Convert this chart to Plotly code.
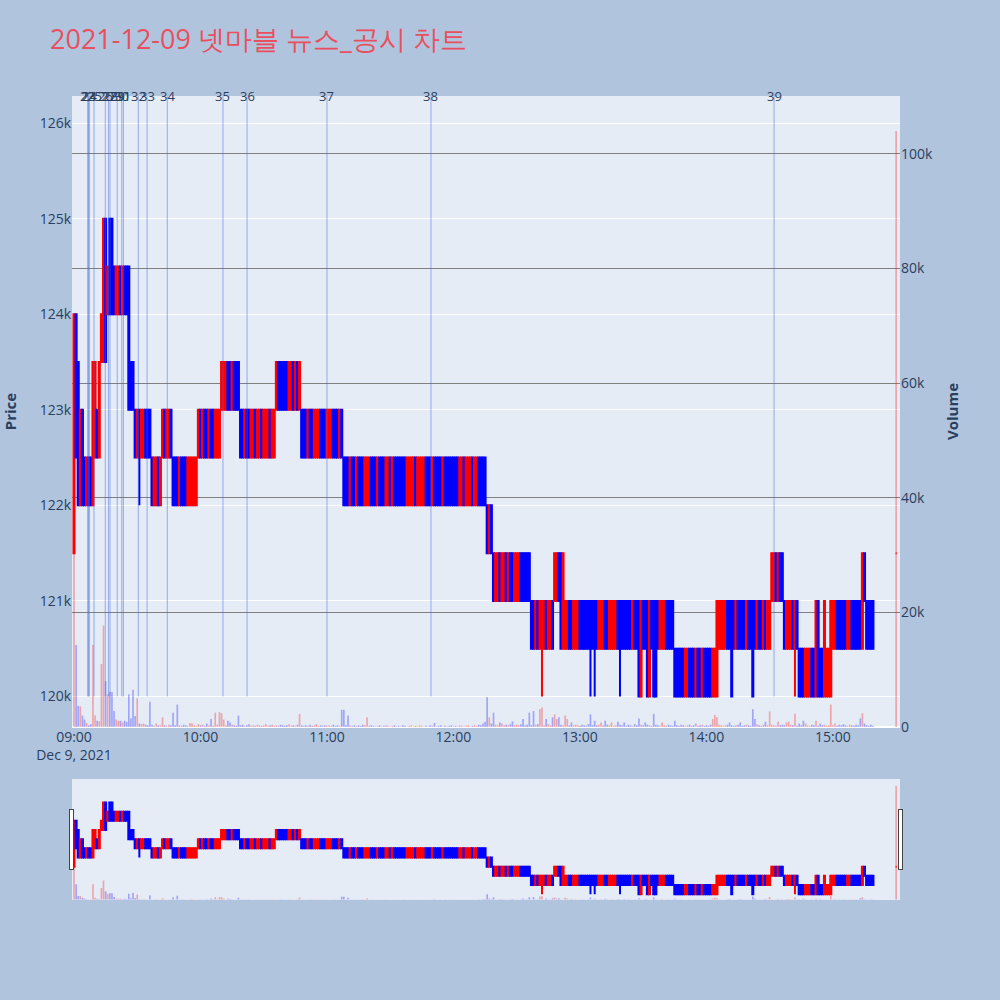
import pandas as pd
import plotly.graph_objects as go
from plotly.subplots import make_subplots

TITLE = "2021-12-09 넷마블 뉴스_공시 차트"
DAY = "2021-12-09"

# ---- per-minute candles 09:00 .. 15:19 (continuous session) + 15:30 closing auction
# prices in thousand KRW
open_k = [
    121.5, 124.0, 123.5, 122.0, 123.0, 122.5, 122.0, 122.5, 122.5, 122.0,  # 09:00
    122.5, 123.0, 122.5, 123.5, 123.5, 125.0, 124.0, 125.0, 125.0, 124.5,
    124.0, 124.0, 124.5, 124.0, 124.5, 124.5, 124.5, 123.5, 123.5, 123.0,
    122.5, 123.0, 122.5, 122.5, 123.0, 123.0, 123.0, 122.5, 122.0, 122.0,
    122.5, 122.0, 122.5, 123.0, 122.5, 122.5, 123.0, 122.5, 122.5, 122.5,
    122.0, 122.5, 122.5, 122.5, 122.0, 122.0, 122.0, 122.0, 122.0, 122.5,
    123.0, 122.5, 123.0, 123.0, 122.5, 123.0, 123.0, 122.5, 122.5, 122.5,  # 10:00
    123.0, 123.0, 123.0, 123.5, 123.5, 123.0, 123.5, 123.5, 123.5, 123.0,
    123.0, 122.5, 123.0, 123.0, 122.5, 122.5, 123.0, 122.5, 122.5, 123.0,
    122.5, 122.5, 122.5, 123.0, 122.5, 122.5, 123.0, 123.5, 123.5, 123.5,
    123.5, 123.5, 123.0, 123.0, 123.5, 123.0, 123.5, 123.0, 123.0, 123.0,
    123.0, 122.5, 123.0, 123.0, 122.5, 122.5, 122.5, 123.0, 123.0, 123.0,
    122.5, 122.5, 122.5, 123.0, 123.0, 123.0, 122.5, 123.0, 122.5, 122.5,  # 11:00
    122.5, 122.0, 122.5, 122.5, 122.0, 122.5, 122.5, 122.5, 122.0, 122.0,
    122.0, 122.5, 122.5, 122.5, 122.0, 122.5, 122.5, 122.5, 122.0, 122.0,
    122.5, 122.0, 122.5, 122.5, 122.5, 122.5, 122.5, 122.5, 122.0, 122.0,
    122.0, 122.0, 122.5, 122.0, 122.0, 122.0, 122.0, 122.5, 122.5, 122.5,
    122.0, 122.5, 122.5, 122.5, 122.5, 122.0, 122.5, 122.5, 122.5, 122.5,
    122.5, 122.5, 122.5, 122.0, 122.0, 122.5, 122.0, 122.0, 122.0, 122.5,  # 12:00
    122.0, 122.0, 122.5, 122.5, 122.5, 122.5, 122.0, 121.5, 122.0, 121.5,
    121.0, 121.0, 121.5, 121.0, 121.0, 121.5, 121.0, 121.5, 121.5, 121.0,
    121.0, 121.0, 121.5, 121.5, 121.5, 121.5, 121.5, 121.0, 121.0, 120.5,
    121.0, 120.5, 120.5, 120.5, 121.0, 120.5, 120.5, 121.0, 121.0, 121.0,
    121.5, 121.5, 120.5, 120.5, 120.5, 121.0, 121.0, 120.5, 120.5, 120.5,
    121.0, 121.0, 121.0, 121.0, 121.0, 121.0, 121.0, 121.0, 121.0, 120.5,  # 13:00
    120.5, 120.5, 121.0, 121.0, 120.5, 120.5, 120.5, 120.5, 121.0, 121.0,
    121.0, 121.0, 121.0, 121.0, 121.0, 120.5, 121.0, 121.0, 121.0, 120.0,
    121.0, 121.0, 121.0, 120.0, 121.0, 121.0, 121.0, 121.0, 120.5, 120.5,
    120.5, 121.0, 121.0, 121.0, 121.0, 120.5, 120.5, 120.5, 120.5, 120.5,
    120.0, 120.0, 120.5, 120.5, 120.5, 120.0, 120.5, 120.5, 120.0, 120.5,
    120.5, 120.5, 120.5, 120.0, 120.0, 120.0, 120.5, 120.5, 120.5, 120.5,  # 14:00
    121.0, 121.0, 121.0, 121.0, 120.5, 121.0, 121.0, 121.0, 121.0, 120.5,
    121.0, 121.0, 121.0, 121.0, 120.5, 121.0, 121.0, 120.5, 121.0, 120.5,
    120.5, 121.0, 121.0, 121.5, 121.0, 121.5, 121.5, 121.0, 120.5, 120.5,
    120.5, 121.0, 120.5, 121.0, 120.5, 120.5, 120.5, 120.0, 120.0, 120.0,
    120.5, 120.5, 120.0, 121.0, 120.5, 120.5, 120.0, 120.0, 120.0, 120.0,
    120.5, 120.5, 121.0, 121.0, 121.0, 121.0, 121.0, 120.5, 120.5, 121.0,  # 15:00
    121.0, 121.0, 121.0, 121.0, 120.5, 121.5, 121.0, 121.0, 121.0, 121.0,
    121.5,                                                                 # 15:30
]
close_k = [
    124.0, 122.5, 122.0, 123.0, 122.0, 122.0, 122.5, 122.0, 122.0, 123.5,  # 09:00
    123.5, 122.5, 123.5, 124.0, 125.0, 123.5, 124.5, 124.0, 124.0, 124.0,
    124.5, 124.5, 124.0, 124.5, 124.0, 124.0, 123.0, 123.0, 123.0, 122.5,
    123.0, 122.5, 123.0, 123.0, 122.5, 122.5, 122.5, 122.0, 122.5, 122.5,
    122.0, 122.5, 123.0, 122.5, 123.0, 123.0, 122.5, 122.0, 122.0, 122.0,
    122.5, 122.0, 122.0, 122.0, 122.5, 122.5, 122.5, 122.5, 122.5, 123.0,
    122.5, 123.0, 122.5, 122.5, 123.0, 122.5, 122.5, 123.0, 123.0, 123.0,  # 10:00
    123.5, 123.5, 123.5, 123.0, 123.0, 123.5, 123.0, 123.0, 123.0, 122.5,
    122.5, 123.0, 122.5, 122.5, 123.0, 123.0, 122.5, 123.0, 123.0, 122.5,
    123.0, 123.0, 123.0, 122.5, 123.0, 123.0, 123.5, 123.0, 123.0, 123.0,
    123.0, 123.0, 123.5, 123.5, 123.0, 123.5, 123.0, 123.5, 122.5, 122.5,
    122.5, 123.0, 122.5, 122.5, 123.0, 123.0, 123.0, 122.5, 122.5, 122.5,
    123.0, 123.0, 123.0, 122.5, 122.5, 122.5, 123.0, 122.5, 122.0, 122.0,  # 11:00
    122.0, 122.5, 122.0, 122.0, 122.5, 122.0, 122.0, 122.0, 122.5, 122.5,
    122.5, 122.0, 122.0, 122.0, 122.5, 122.0, 122.0, 122.0, 122.5, 122.5,
    122.0, 122.5, 122.0, 122.0, 122.0, 122.0, 122.0, 122.0, 122.5, 122.5,
    122.5, 122.5, 122.0, 122.5, 122.5, 122.5, 122.5, 122.0, 122.0, 122.0,
    122.5, 122.0, 122.0, 122.0, 122.0, 122.5, 122.0, 122.0, 122.0, 122.0,
    122.0, 122.0, 122.0, 122.5, 122.5, 122.0, 122.5, 122.5, 122.5, 122.0,  # 12:00
    122.5, 122.5, 122.0, 122.0, 122.0, 122.0, 121.5, 122.0, 121.5, 121.0,
    121.5, 121.5, 121.0, 121.5, 121.5, 121.0, 121.5, 121.0, 121.0, 121.5,
    121.5, 121.5, 121.0, 121.0, 121.0, 121.0, 121.0, 120.5, 120.5, 121.0,
    120.5, 121.0, 121.0, 121.0, 120.5, 121.0, 121.0, 120.5, 121.5, 121.5,
    121.0, 120.5, 121.5, 121.0, 121.0, 120.5, 120.5, 121.0, 121.0, 121.0,
    120.5, 120.5, 120.5, 120.5, 120.5, 120.5, 120.5, 120.5, 120.5, 121.0,  # 13:00
    121.0, 121.0, 120.5, 120.5, 121.0, 121.0, 121.0, 121.0, 120.5, 120.5,
    120.5, 120.5, 120.5, 120.5, 120.5, 121.0, 120.5, 120.5, 120.0, 121.0,
    120.5, 120.5, 120.0, 121.0, 120.5, 120.0, 120.0, 120.5, 121.0, 121.0,
    121.0, 120.5, 120.5, 120.5, 120.5, 120.0, 120.0, 120.0, 120.0, 120.0,
    120.5, 120.5, 120.0, 120.0, 120.0, 120.5, 120.0, 120.0, 120.5, 120.0,
    120.0, 120.0, 120.0, 120.5, 120.5, 121.0, 121.0, 121.0, 121.0, 121.0,  # 14:00
    120.5, 120.5, 120.0, 120.5, 121.0, 120.5, 120.5, 120.5, 120.5, 121.0,
    120.5, 120.5, 120.0, 120.5, 121.0, 120.5, 120.5, 121.0, 120.5, 121.0,
    121.0, 121.5, 121.5, 121.0, 121.5, 121.0, 121.0, 120.5, 121.0, 121.0,
    121.0, 120.5, 121.0, 120.5, 120.0, 120.0, 120.0, 120.5, 120.5, 120.5,
    120.0, 120.0, 121.0, 120.0, 120.0, 120.0, 121.0, 120.5, 120.5, 121.0,
    121.0, 121.0, 120.5, 120.5, 120.5, 120.5, 120.5, 121.0, 121.0, 120.5,  # 15:00
    120.5, 120.5, 120.5, 120.5, 121.5, 121.0, 120.5, 120.5, 120.5, 120.5,
    121.5,                                                                 # 15:30
]
# minutes (index) whose low wick reaches below the body, in thousand KRW
wick_low_k = {31: 122.0, 222: 120.0, 245: 120.0, 247: 120.0, 259: 120.0, 342: 120.0}

volume = [
    30500, 14300, 3700, 3600, 2000, 1300, 700, 300, 500, 14300,   # 09:00
    2000, 1100, 1000, 11000, 17700, 8000, 5700, 6100, 6100, 2800,
    1300, 1100, 1100, 800, 1100, 900, 5700, 1500, 6500, 1900,
    5000, 600, 500, 600, 400, 300, 4400, 400, 200, 600,
    300, 300, 1700, 300, 200, 400, 300, 2500, 300, 3900,
    300, 200, 400, 300, 200, 700, 600, 300, 200, 500,
    300, 400, 200, 600, 300, 1400, 200, 2500, 400, 2600,          # 10:00
    2400, 1300, 300, 1100, 800, 400, 300, 200, 2000, 300,
    400, 200, 300, 500, 200, 300, 200, 400, 300, 200,
    300, 500, 200, 300, 400, 200, 300, 200, 400, 300,
    200, 300, 500, 200, 300, 200, 400, 2300, 300, 200,
    300, 200, 400, 200, 300, 500, 200, 300, 200, 300,
    200, 300, 200, 400, 200, 300, 200, 3000, 3000, 300,           # 11:00
    2000, 300, 200, 300, 200, 300, 200, 400, 300, 1700,
    200, 300, 200, 100, 200, 300, 100, 200, 300, 200,
    100, 200, 300, 100, 200, 100, 300, 200, 100, 200,
    300, 100, 200, 100, 300, 200, 100, 200, 100, 300,
    200, 700, 100, 200, 300, 100, 200, 100, 200, 300,
    100, 200, 100, 300, 200, 100, 200, 300, 100, 200,             # 12:00
    300, 200, 400, 300, 600, 900, 5200, 1700, 600, 2500,
    400, 300, 800, 600, 300, 400, 300, 500, 1000, 300,
    400, 300, 500, 1400, 300, 400, 2500, 300, 2800, 400,
    500, 3100, 3400, 300, 1400, 500, 300, 1700, 2200, 1400,
    1700, 400, 300, 2000, 1400, 300, 800, 300, 400, 300,
    200, 400, 300, 200, 500, 2200, 300, 1100, 300, 400,           # 13:00
    800, 300, 1100, 400, 300, 800, 200, 300, 900, 400,
    300, 800, 200, 400, 300, 200, 500, 300, 1500, 400,
    300, 800, 400, 300, 200, 2300, 400, 300, 200, 800,
    300, 200, 400, 300, 200, 1100, 300, 200, 400, 300,
    200, 300, 400, 200, 300, 600, 200, 300, 400, 200,
    300, 200, 400, 1400, 2100, 1700, 400, 300, 200, 300,          # 14:00
    400, 800, 300, 200, 300, 400, 800, 200, 300, 400,
    300, 200, 3100, 1400, 500, 300, 200, 400, 900, 300,
    2700, 400, 300, 200, 900, 300, 400, 300, 800, 900,
    400, 300, 2300, 200, 600, 300, 1100, 600, 300, 200,
    400, 300, 1100, 200, 600, 300, 400, 200, 300, 3900,
    300, 600, 200, 400, 300, 500, 300, 200, 400, 300,             # 15:00
    200, 400, 300, 1500, 2400, 600, 300, 200, 400, 200,
    104000,                                                       # 15:30
]

# news / disclosure markers
news_ids = [22, 23, 24, 25, 26, 27, 28, 29, 30, 31, 32, 33, 34, 35, 36, 37, 38, 39]
news_times = ["09:06:30", "09:06:55", "09:07:15", "09:09:30", "09:14:50", "09:16:20",
              "09:17:05", "09:20:30", "09:22:40", "09:23:25", "09:30:30", "09:34:40",
              "09:44:15", "10:10:40", "10:22:05", "11:00:00", "11:49:20", "14:32:05"]

X_RANGE = [f"{DAY} 08:59:03", f"{DAY} 15:31:50"]
PRICE_RANGE = [119680, 126285]
VOLUME_RANGE = [0, 110100]

# ---------------------------------------------------------------------------
assert len(open_k) == len(close_k) == len(volume) == 381
times = pd.date_range(f"{DAY} 09:00", periods=380, freq="min").append(
    pd.DatetimeIndex([f"{DAY} 15:30"]))

opens = [v * 1000 for v in open_k]
closes = [v * 1000 for v in close_k]
highs = [max(o, c) for o, c in zip(opens, closes)]
lows = [min(o, c) for o, c in zip(opens, closes)]
for i, v in wick_low_k.items():
    lows[i] = v * 1000

vol_colors = []
prev_c = None
for o, c in zip(opens, closes):
    up = c > o or (c == o and prev_c is not None and c > prev_c)
    vol_colors.append("rgba(255,0,0,0.3)" if up else "rgba(0,0,255,0.3)")
    prev_c = c

fig = make_subplots(specs=[[{"secondary_y": True}]])
fig.add_trace(go.Candlestick(
    x=times, open=opens, high=highs, low=lows, close=closes,
    increasing=dict(line=dict(color="red"), fillcolor="red"),
    decreasing=dict(line=dict(color="blue"), fillcolor="blue"),
    name="Price"), secondary_y=False)
fig.add_trace(go.Bar(x=times, y=volume, marker=dict(color=vol_colors, line=dict(width=0)),
                     name="Volume"), secondary_y=True)

for nid, nt in zip(news_ids, news_times):
    t = f"{DAY} {nt}"
    fig.add_shape(type="line", xref="x", yref="y", x0=t, x1=t,
                  y0=min(lows), y1=PRICE_RANGE[1],
                  line=dict(color="royalblue", width=1), opacity=0.5)
    fig.add_annotation(x=t, y=1, xref="x", yref="paper", text=str(nid),
                       showarrow=False, yanchor="middle", xanchor="center",
                       font=dict(size=13, color="#2a3f5f"))

fig.update_layout(
    width=1000, height=1000,
    paper_bgcolor="lightsteelblue",
    showlegend=False,
    margin=dict(l=72, r=100, t=96, b=100),
    title=dict(text=TITLE, x=0.05, xanchor="left", y=0.96, yanchor="middle",
               font=dict(size=27, color="#e8505f")),
    xaxis=dict(domain=[0, 1], range=X_RANGE, showgrid=False, tickfont=dict(size=14),
               rangeslider=dict(visible=True, range=X_RANGE)),
)
fig.update_yaxes(title=dict(text="<b>Price</b>", font=dict(size=15), standoff=20),
                 tickfont=dict(size=14), automargin=False,
                 range=PRICE_RANGE, secondary_y=False)
fig.update_yaxes(title=dict(text="<b>Volume</b>", font=dict(size=15)),
                 tickfont=dict(size=14), automargin=False,
                 range=VOLUME_RANGE, showgrid=True, gridcolor="gray",
                 secondary_y=True)

fig.write_html("out.html", config={"displayModeBar": False},
               post_script="document.body.style.margin='0';")
